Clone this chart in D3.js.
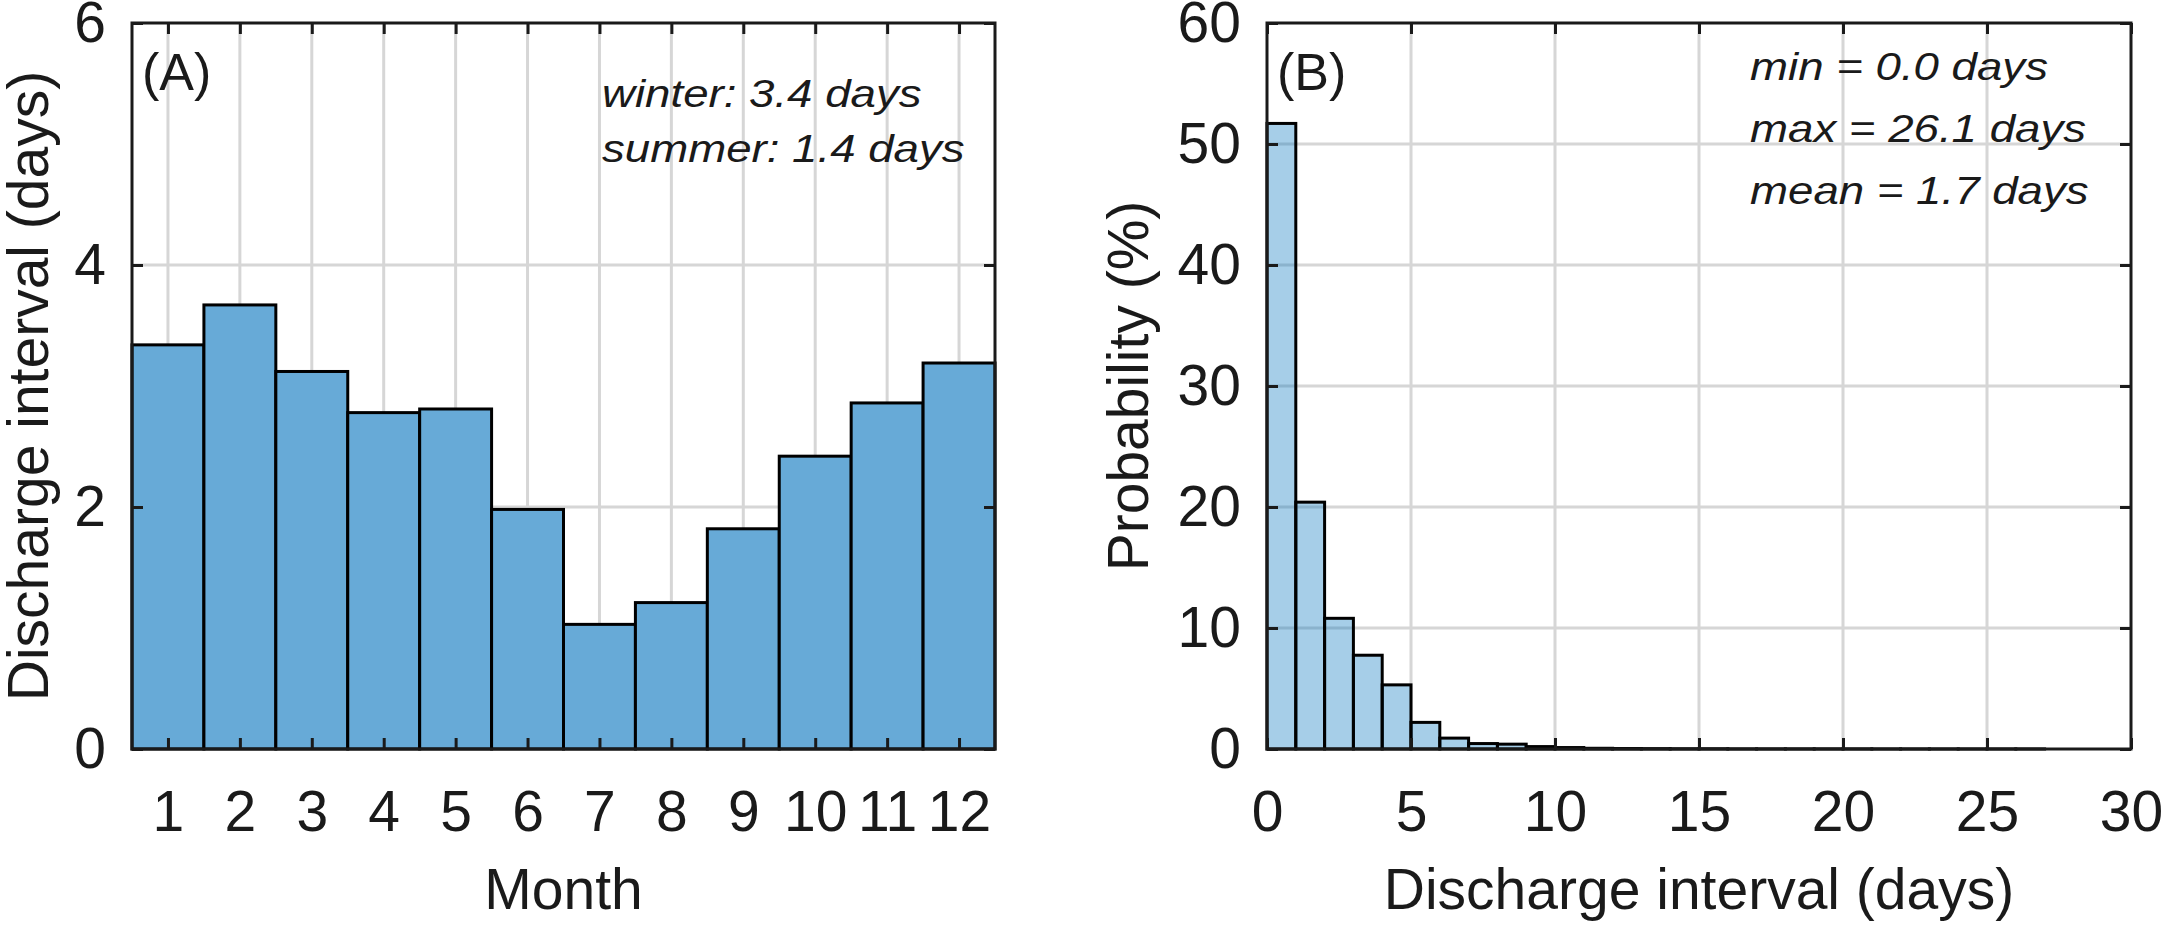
<!DOCTYPE html>
<html>
<head>
<meta charset="utf-8">
<script src="https://cdn.jsdelivr.net/npm/d3@7"></script>
<style>
  body { margin: 0; background: #fff; }
  text { font-family: "Liberation Sans", Arial, Helvetica, sans-serif; fill: #1a1a1a; }
</style>
</head>
<body>
<div id="chart"></div>
<script>
// panel A: mean discharge interval per month (days)
var months = [1, 2, 3, 4, 5, 6, 7, 8, 9, 10, 11, 12];
var monthInterval = [3.34, 3.67, 3.12, 2.78, 2.81, 1.98, 1.03, 1.21, 1.82, 2.42, 2.86, 3.19];
var yTicksA = [0, 2, 4, 6];
var notesA = ["winter: 3.4 days", "summer: 1.4 days"];

// panel B: histogram of discharge interval, 1-day bins starting at 0
var binStart = [0, 1, 2, 3, 4, 5, 6, 7, 8, 9, 10, 11, 12, 13, 14, 15, 16, 17, 18, 19, 20, 21, 22, 23, 24, 25, 26];
var binProb = [51.7, 20.4, 10.8, 7.75, 5.3, 2.2, 0.9, 0.45, 0.4, 0.2, 0.12, 0.06, 0.04, 0.03, 0.02, 0.02, 0.01, 0.01, 0.01, 0.01, 0.01, 0.005, 0.005, 0.005, 0.005, 0.005, 0.005];
var xTicksB = [0, 5, 10, 15, 20, 25, 30];
var yTicksB = [0, 10, 20, 30, 40, 50, 60];
var notesB = ["min = 0.0 days", "max = 26.1 days", "mean = 1.7 days"];

var W = 2165, H = 926;
var yTop = 23, yBot = 749;
var fs = 57;

var svg = d3.select("#chart").append("svg")
    .attr("width", W)
    .attr("height", H);

function panel(o) {
  var g = svg.append("g");
  var x = o.x, y = o.y;
  var x0 = x.range()[0], x1 = x.range()[1];
  var fmt = d3.format("d");

  // grid
  g.selectAll(".vg").data(o.xGrid).enter().append("line")
    .attr("x1", function(d) { return x(d); }).attr("x2", function(d) { return x(d); })
    .attr("y1", yTop).attr("y2", yBot)
    .attr("stroke", "#d6d6d6").attr("stroke-width", 3);
  g.selectAll(".hg").data(o.yGrid).enter().append("line")
    .attr("x1", x0).attr("x2", x1)
    .attr("y1", function(d) { return y(d); }).attr("y2", function(d) { return y(d); })
    .attr("stroke", "#d6d6d6").attr("stroke-width", 3);

  o.draw(g);

  // axes, ticks pointing inward like matlab
  var ax = [
    [d3.axisBottom(x).tickValues(o.xTicks).tickFormat(fmt).tickSize(-11).tickPadding(42), "translate(0," + yBot + ")"],
    [d3.axisTop(x).tickValues(o.xTicks).tickSize(-11).tickFormat(""), "translate(0," + yTop + ")"],
    [d3.axisLeft(y).tickValues(o.yTicks).tickFormat(fmt).tickSize(-11).tickPadding(26), "translate(" + x0 + ",0)"],
    [d3.axisRight(y).tickValues(o.yTicks).tickSize(-11).tickFormat(""), "translate(" + x1 + ",0)"]
  ];
  ax.forEach(function(a) {
    var s = g.append("g").attr("transform", a[1]).call(a[0]);
    s.select(".domain").remove();
    s.selectAll(".tick line").attr("stroke", "#1a1a1a").attr("stroke-width", 3);
    s.selectAll(".tick text").attr("font-size", fs).attr("fill", "#1a1a1a")
      .style("font-family", '"Liberation Sans", Arial, sans-serif');
  });

  g.append("rect")
    .attr("x", x0).attr("y", yTop)
    .attr("width", x1 - x0).attr("height", yBot - yTop)
    .attr("fill", "none").attr("stroke", "#1a1a1a").attr("stroke-width", 3);

  g.append("text")
    .attr("x", (x0 + x1) / 2).attr("y", 909)
    .attr("text-anchor", "middle").attr("font-size", fs)
    .text(o.xLabel);
  g.append("text")
    .attr("transform", "translate(" + o.yLabelX + "," + (yTop + yBot) / 2 + ") rotate(-90)")
    .attr("text-anchor", "middle").attr("font-size", fs)
    .text(o.yLabel);

  g.append("text")
    .attr("x", x0 + 10).attr("y", 90)
    .attr("font-size", 52)
    .text(o.tag);

  var nt = g.append("g")
    .attr("transform", "translate(" + o.noteX + "," + o.noteY + ") scale(1.17,1)");
  nt.selectAll("text").data(o.notes).enter().append("text")
    .attr("x", 0).attr("y", function(d, i) { return i * o.noteGap; })
    .attr("font-size", 39).attr("font-style", "italic")
    .text(function(d) { return d; });
}

var xA = d3.scaleLinear().domain([0.5, 12.5]).range([132, 995]);
var yA = d3.scaleLinear().domain([0, 6]).range([yBot, yTop]);

panel({
  x: xA, y: yA,
  xGrid: months, yGrid: [2, 4],
  xTicks: months, yTicks: yTicksA,
  xLabel: "Month", yLabel: "Discharge interval (days)", yLabelX: 48,
  tag: "(A)",
  notes: notesA, noteX: 602, noteY: 107, noteGap: 55,
  draw: function(g) {
    g.selectAll(".bar").data(months).enter().append("rect")
      .attr("x", function(d) { return xA(d - 0.5); })
      .attr("width", function(d) { return xA(d + 0.5) - xA(d - 0.5); })
      .attr("y", function(d, i) { return yA(monthInterval[i]); })
      .attr("height", function(d, i) { return yA(0) - yA(monthInterval[i]); })
      .attr("fill", "#67aad7")
      .attr("stroke", "#000").attr("stroke-width", 3);
  }
});

var xB = d3.scaleLinear().domain([0, 30]).range([1267, 2131]);
var yB = d3.scaleLinear().domain([0, 60]).range([yBot, yTop]);

panel({
  x: xB, y: yB,
  xGrid: [5, 10, 15, 20, 25], yGrid: [10, 20, 30, 40, 50],
  xTicks: xTicksB, yTicks: yTicksB,
  xLabel: "Discharge interval (days)", yLabel: "Probability (%)", yLabelX: 1148,
  tag: "(B)",
  notes: notesB, noteX: 1750, noteY: 80, noteGap: 62,
  draw: function(g) {
    g.selectAll(".bin").data(binStart).enter().append("rect")
      .attr("x", function(d) { return xB(d); })
      .attr("width", function(d) { return xB(d + 1) - xB(d); })
      .attr("y", function(d, i) { return yB(binProb[i]); })
      .attr("height", function(d, i) { return yB(0) - yB(binProb[i]); })
      .attr("fill", "#0072bd").attr("fill-opacity", 0.35)
      .attr("stroke", "#000").attr("stroke-width", 3);
  }
});
</script>
</body>
</html>
